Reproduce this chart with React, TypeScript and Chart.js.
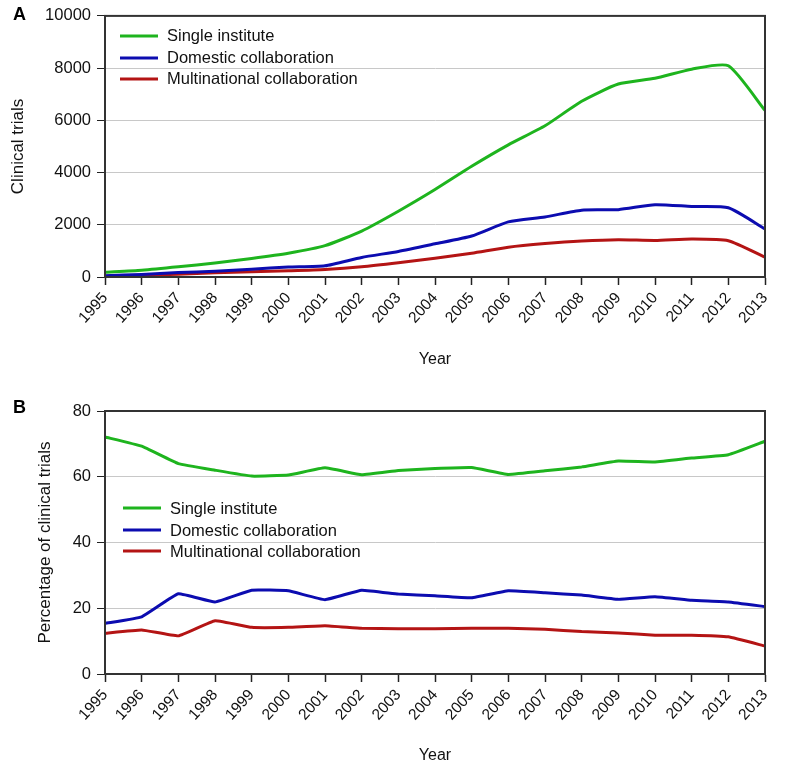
import React, { useEffect, useRef } from "react";
import { Chart, registerables } from "chart.js";

Chart.register(...registerables);

const years = ["1995","1996","1997","1998","1999","2000","2001","2002","2003","2004","2005","2006","2007","2008","2009","2010","2011","2012","2013"];

const countSingle = [180, 260, 390, 540, 710, 910, 1200, 1760, 2520, 3350, 4240, 5060, 5790, 6730, 7390, 7610, 7960, 8090, 6380];
const countDomestic = [50, 100, 170, 220, 300, 380, 430, 750, 980, 1270, 1570, 2110, 2300, 2560, 2580, 2770, 2700, 2650, 1840];
const countMulti = [25, 60, 110, 160, 200, 240, 290, 390, 545, 720, 910, 1140, 1280, 1380, 1430, 1400, 1455, 1390, 760];

const pctSingle = [72.1, 69.3, 64.0, 62.0, 60.2, 60.5, 62.7, 60.6, 61.9, 62.5, 62.8, 60.7, 61.8, 63.0, 64.8, 64.5, 65.7, 66.7, 70.8];
const pctDomestic = [15.4, 17.4, 24.4, 21.9, 25.5, 25.3, 22.6, 25.5, 24.3, 23.8, 23.2, 25.3, 24.7, 24.0, 22.7, 23.5, 22.4, 21.9, 20.5];
const pctMulti = [12.4, 13.4, 11.6, 16.2, 14.2, 14.2, 14.7, 13.9, 13.8, 13.8, 13.9, 13.9, 13.6, 12.9, 12.5, 11.8, 11.8, 11.3, 8.5];

const seriesNames = ["Single institute", "Domestic collaboration", "Multinational collaboration"];
const seriesColors = ["#1eb41e", "#0c0cb0", "#b41414"];

const FONT = "'Liberation Sans', Arial, sans-serif";

type PanelCfg = {
  letter: string;
  letterBaseline: number;
  yMax: number;
  yStep: number;
  yTitle: string;
  yTitlePad: number;
  xAxisHeight: number;
  xTitlePad: number;
  topPad: number;
  tension: number;
  legendX: number;
  legendTextX: number;
  legendY: number[];
  data: number[][];
};

function makeChart(canvas: HTMLCanvasElement, cfg: PanelCfg) {
  const overlay = {
    id: "overlay",
    afterDatasetsDraw(chart: any) {
      const { ctx, chartArea } = chart;
      ctx.save();
      ctx.strokeStyle = "#333333";
      ctx.lineWidth = 2;
      ctx.strokeRect(chartArea.left, chartArea.top, chartArea.right - chartArea.left, chartArea.bottom - chartArea.top);
      ctx.font = `16.5px ${FONT}`;
      ctx.textBaseline = "middle";
      ctx.textAlign = "left";
      chart.data.datasets.forEach((ds: any, i: number) => {
        const y = chartArea.top + cfg.legendY[i];
        ctx.strokeStyle = ds.borderColor;
        ctx.lineWidth = 3;
        ctx.beginPath();
        ctx.moveTo(chartArea.left + cfg.legendX, y);
        ctx.lineTo(chartArea.left + cfg.legendX + 38, y);
        ctx.stroke();
        ctx.fillStyle = "#111111";
        ctx.fillText(ds.label, chartArea.left + cfg.legendTextX, y + 1);
      });
      ctx.font = `bold 18px ${FONT}`;
      ctx.fillStyle = "#000000";
      ctx.textBaseline = "alphabetic";
      ctx.fillText(cfg.letter, 13, cfg.letterBaseline);
      ctx.restore();
    },
  };

  return new Chart(canvas, {
    type: "line",
    data: {
      labels: years,
      datasets: cfg.data.map((d, i) => ({
        label: seriesNames[i],
        data: d,
        borderColor: seriesColors[i],
        backgroundColor: seriesColors[i],
        borderWidth: 3,
        pointRadius: 0,
        tension: cfg.tension,
        fill: false,
      })),
    },
    options: {
      animation: false,
      responsive: false,
      maintainAspectRatio: false,
      layout: { padding: { top: cfg.topPad, right: 30, left: 0, bottom: 0 } },
      plugins: { legend: { display: false }, tooltip: { enabled: false } },
      scales: {
        x: {
          offset: false,
          afterFit: (s: any) => { s.height = cfg.xAxisHeight; },
          grid: { drawOnChartArea: false, drawTicks: true, tickLength: 8, tickColor: "#222222", tickWidth: 1.5 },
          border: { display: true, color: "#333333", width: 2 },
          ticks: {
            autoSkip: false,
            minRotation: 48,
            maxRotation: 48,
            padding: 4,
            color: "#111111",
            font: { family: FONT, size: 15.5 },
          },
          title: {
            display: true,
            text: "Year",
            color: "#111111",
            font: { family: FONT, size: 16 },
            padding: { top: 0, bottom: cfg.xTitlePad },
          },
        },
        y: {
          min: 0,
          max: cfg.yMax,
          afterFit: (s: any) => { s.width = 105; },
          grid: { color: "#c8c8c8", lineWidth: 1, drawTicks: true, tickLength: 8, tickColor: "#222222" },
          border: { display: true, color: "#333333", width: 2 },
          ticks: {
            stepSize: cfg.yStep,
            padding: 6,
            color: "#111111",
            font: { family: FONT, size: 16.5 },
            callback: (v: any) => String(v),
          },
          title: {
            display: true,
            text: cfg.yTitle,
            color: "#111111",
            font: { family: FONT, size: 17 },
            padding: { top: cfg.yTitlePad, bottom: 0 },
          },
        },
      },
    },
    plugins: [overlay],
  } as any);
}

export default function App() {
  const topRef = useRef<HTMLCanvasElement>(null);
  const botRef = useRef<HTMLCanvasElement>(null);

  useEffect(() => {
    const c1 = makeChart(topRef.current!, {
      letter: "A",
      letterBaseline: 20,
      yMax: 10000,
      yStep: 2000,
      yTitle: "Clinical trials",
      yTitlePad: 8,
      xAxisHeight: 113,
      xTitlePad: 21,
      topPad: 14,
      tension: 0.2,
      legendX: 15,
      legendTextX: 62,
      legendY: [20, 42, 63],
      data: [countSingle, countDomestic, countMulti],
    });
    const c2 = makeChart(botRef.current!, {
      letter: "B",
      letterBaseline: 23,
      yMax: 80,
      yStep: 20,
      yTitle: "Percentage of clinical trials",
      yTitlePad: 35,
      xAxisHeight: 99,
      xTitlePad: 8,
      topPad: 21,
      tension: 0.1,
      legendX: 18,
      legendTextX: 65,
      legendY: [97, 119, 140],
      data: [pctSingle, pctDomestic, pctMulti],
    });
    return () => {
      c1.destroy();
      c2.destroy();
    };
  }, []);

  return (
    <div style={{ position: "absolute", left: 0, top: 0, width: 795, height: 773, background: "#ffffff" }}>
      <canvas ref={topRef} width={795} height={390} style={{ position: "absolute", left: 0, top: 0, width: 795, height: 390 }} />
      <canvas ref={botRef} width={795} height={383} style={{ position: "absolute", left: 0, top: 390, width: 795, height: 383 }} />
    </div>
  );
}
